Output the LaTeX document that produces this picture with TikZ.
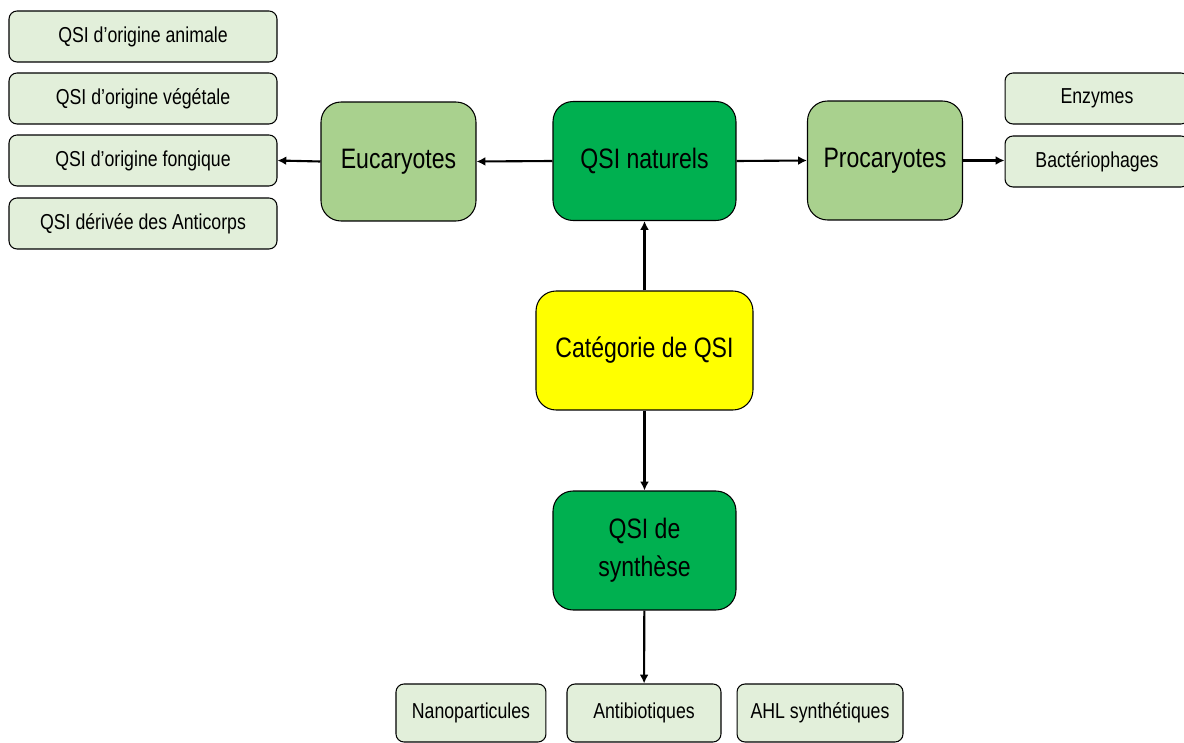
\documentclass[tikz,border=0pt]{standalone}
\usepackage{fontspec}
\setmainfont{Liberation Sans}[FakeStretch=0.82]
\usetikzlibrary{arrows.meta, positioning}

\definecolor{darkgreen}{HTML}{00B050}
\definecolor{midgreen}{HTML}{A9D18E}
\definecolor{palegreen}{HTML}{E2EFDA}
\definecolor{brightyellow}{HTML}{FFFF00}

\begin{document}
\begin{tikzpicture}[x=0.02cm, y=-0.02cm]
	\tikzset{
		bigbox/.style = {draw, line width=0.6pt, rounded corners=0.4cm, minimum height=2.38cm, align=center, font={\fontsize{16}{21.5}\selectfont}, inner sep=0pt},
		leaf/.style = {draw, line width=0.6pt, rounded corners=0.16cm, fill=palegreen, minimum height=1.02cm, align=center, font={\fontsize{12.3}{14}\selectfont}, inner sep=0pt},
		arrow/.style = {-{Latex[length=5pt, width=5pt]}, line width=1.2pt},
	}
	\useasboundingbox (0,0) rectangle (1184,743);

	% central column
	\node[bigbox, fill=brightyellow, minimum width=4.34cm] (cat) at (644.5,350.5) {Catégorie de QSI};
	\node[bigbox, fill=darkgreen, minimum width=3.66cm] (nat) at (644.5,161) {QSI naturels};
	\node[bigbox, fill=darkgreen, minimum width=3.66cm] (syn) at (644.5,550.5) {QSI de\\synthèse};

	% kingdoms
	\node[bigbox, fill=midgreen, minimum width=3.1cm] (euk) at (398.5,161.5) {Eucaryotes};
	\node[bigbox, fill=midgreen, minimum width=3.1cm] (pro) at (885,160.5) {Procaryotes};

	% leaves
	\foreach \x/\l/\y in {1/QSI d’origine animale/36.5, 2/QSI d’origine végétale/98.5, 3/QSI d’origine fongique/160.5, 4/QSI dérivée des Anticorps/223.5}
		{
			\node[leaf, minimum width=5.36cm] (ori-\x) at (143,\y) {\l};
		}
	\node[leaf, minimum width=3.68cm] (enz) at (1097,98.5) {Enzymes};
	\node[leaf, minimum width=3.68cm] (bac) at (1097,161.5) {Bactériophages};

	\node[leaf, minimum width=3.08cm, minimum height=1.16cm] (ant) at (644,713) {Antibiotiques};
	\node[leaf, minimum width=3.0cm, minimum height=1.16cm, left=0.4cm of ant] (nano) {Nanoparticules};
	\node[leaf, minimum width=3.32cm, minimum height=1.16cm, right=0.3cm of ant] (ahl) {AHL synthétiques};

	\draw[arrow] (cat) -- (nat);
	\draw[arrow] (cat) -- (syn);
	\draw[arrow] (nat.west) -- (euk.east);
	\draw[arrow] (nat.east) -- (pro.west);
	\draw[arrow] (euk.west) -- (ori-3.east);
	\draw[arrow] (pro.east) -- (pro.east -| bac.west);
	\draw[arrow] (syn) -- (ant);
\end{tikzpicture}
\end{document}
